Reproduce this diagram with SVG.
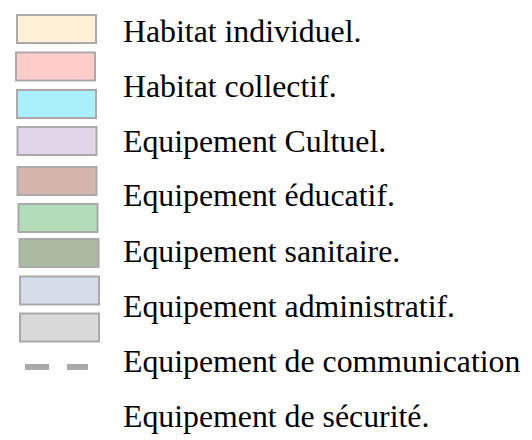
<svg xmlns="http://www.w3.org/2000/svg" width="532" height="440" viewBox="0 0 532 440">
<style>
.sw{stroke:#aaaaaa;stroke-width:2}
.lbl{font-family:"Liberation Serif","Times New Roman",serif;font-size:31.8px;fill:#000}
</style>
<rect width="532" height="440" fill="#ffffff"/>
<g id="swatches">
<rect id="s1" class="sw" x="17" y="15" width="79" height="28" fill="#fff0d6"/>
<rect id="s2" class="sw" x="16" y="52.5" width="79" height="28" fill="#ffcccc"/>
<rect id="s3" class="sw" x="17" y="90" width="79" height="28" fill="#aaf0fa"/>
<rect id="s4" class="sw" x="17.5" y="127" width="79" height="28" fill="#e1d5ea"/>
<rect id="s5" class="sw" x="17.5" y="167" width="79" height="28" fill="#d4b5ab"/>
<rect id="s6" class="sw" x="18.5" y="204" width="79" height="28" fill="#b3ddb9"/>
<rect id="s7" class="sw" x="19.5" y="239" width="79" height="28" fill="#adbaa3"/>
<rect id="s8" class="sw" x="20" y="276.5" width="79" height="28" fill="#d5dde9"/>
<rect id="s9" class="sw" x="20" y="313.5" width="79" height="28" fill="#d9d9d9"/>
<g id="s10" fill="#aaaaaa">
<rect x="25" y="364" width="24" height="6"/>
<rect x="67" y="364" width="21" height="6"/>
</g>
</g>
<g id="labels">
<text class="lbl" x="123" y="41.7">Habitat individuel.</text>
<text class="lbl" x="123" y="96.7">Habitat collectif.</text>
<text class="lbl" x="123" y="151.7">Equipement Cultuel.</text>
<text class="lbl" x="123" y="205.7">Equipement éducatif.</text>
<text class="lbl" x="123" y="261.7">Equipement sanitaire.</text>
<text class="lbl" x="123" y="316.7">Equipement administratif.</text>
<text class="lbl" x="123" y="371.7">Equipement de communication</text>
<text class="lbl" x="123" y="426.7">Equipement de sécurité.</text>
</g>
</svg>
